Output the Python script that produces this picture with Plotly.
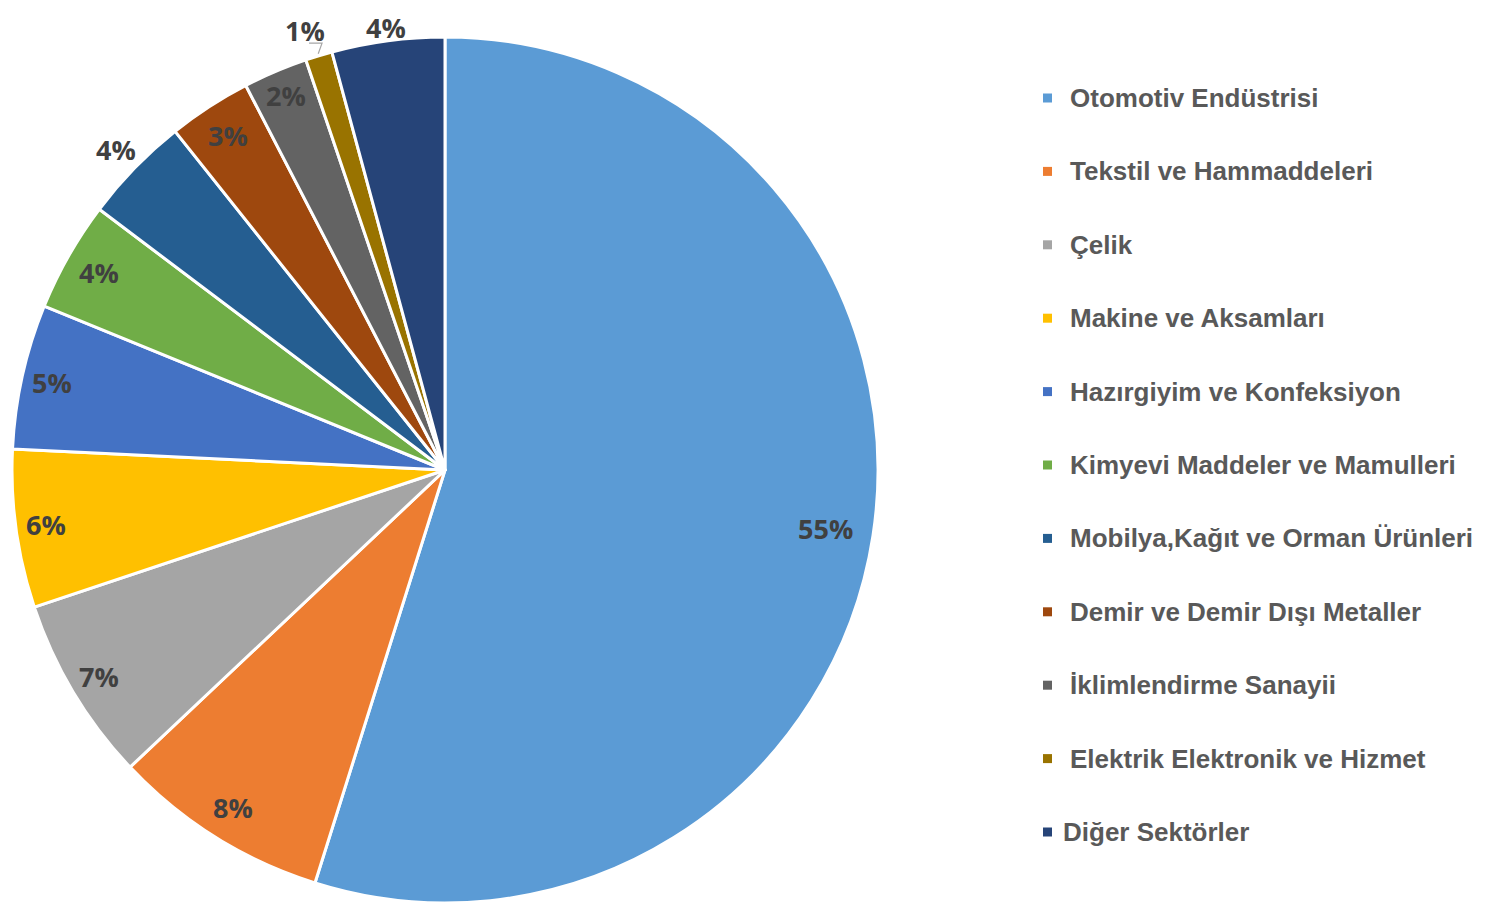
import math
import plotly.graph_objects as go

# sector shares (%)
sectors = [
    'Otomotiv Endüstrisi', 'Tekstil ve Hammaddeleri', 'Çelik', 'Makine ve Aksamları',
    'Hazırgiyim ve Konfeksiyon', 'Kimyevi Maddeler ve Mamulleri',
    'Mobilya,Kağıt ve Orman Ürünleri', 'Demir ve Demir Dışı Metaller',
    'İklimlendirme Sanayii', 'Elektrik Elektronik ve Hizmet', 'Diğer Sektörler',
]
shares = [54.8, 8.1, 6.9, 5.9, 5.4, 4.1, 4.0, 3.1, 2.4, 1.0, 4.2]
colors = ['#5B9BD5', '#ED7D31', '#A5A5A5', '#FFC000', '#4472C4', '#70AD47',
          '#255E91', '#9E480E', '#636363', '#997300', '#264478']

# label radius as a fraction of pie radius (Excel "best fit" placement)
label_r = [0.89, 0.92, 0.93, 0.93, 0.93, 0.92, 1.06, 0.92, 0.94, 1.062, 1.03]

# page body has an 8px margin, so the figure is made that much smaller
OFF = 8
W, H = 1493 - OFF, 906 - OFF
cx, cy, R = 445 - OFF, 470 - OFF, 433  # pixels inside the figure


def paper(x, y):
    return x / W, 1 - y / H


fig = go.Figure(go.Pie(
    labels=sectors,
    values=shares,
    sort=False,
    direction='clockwise',
    rotation=0,
    textinfo='none',
    hoverinfo='label+percent',
    marker=dict(colors=colors, line=dict(color='white', width=3)),
    domain=dict(x=[(cx - R) / W, (cx + R) / W], y=[1 - (cy + R) / H, 1 - (cy - R) / H]),
    showlegend=False,
))

# percentage labels placed on each slice bisector
total = sum(shares)
cum = 0
for i, v in enumerate(shares):
    mid = (cum + v / 2) / total * 2 * math.pi
    cum += v
    r = label_r[i] * R
    px = cx + r * math.sin(mid)
    py = cy - r * math.cos(mid)
    if v == min(shares):
        px -= 6  # Excel nudges this label left of its leader line
    ax, ay = paper(px, py)
    fig.add_annotation(
        x=ax, y=ay, xref='paper', yref='paper',
        text=f'{round(v / total * 100)}%', showarrow=False,
        font=dict(family='Open Sans', size=27, color='#404040', weight='bold'),
        xanchor='center', yanchor='middle',
    )
    if v == min(shares):
        # small leader line for the tiny slice
        ex, ey = paper(cx + R * 1.005 * math.sin(mid), cy - R * 1.005 * math.cos(mid))
        tx, ty = paper(px + 17, py + 13)
        tx2, _ = paper(px + 4, py + 13)
        fig.add_shape(type='path', xref='paper', yref='paper',
                      path=f'M {ex},{ey} L {tx},{ty} L {tx2},{ty}',
                      line=dict(color='#A6A6A6', width=1.2))

# legend drawn by hand: Excel spreads entries over the full height
leg_x, leg_y0, leg_step = 1068 - OFF, 98 - OFF, 73.4
sq_x0, sq_x1 = 1043 - OFF, 1052 - OFF
for i, name in enumerate(sectors):
    y = leg_y0 + i * leg_step
    tx = leg_x - 7 if i == len(sectors) - 1 else leg_x
    x0, y0 = paper(sq_x0, y + 4.5)
    x1, y1 = paper(sq_x1, y - 4.5)
    fig.add_shape(type='rect', xref='paper', yref='paper',
                  x0=x0, x1=x1, y0=y0, y1=y1,
                  fillcolor=colors[i], line=dict(width=0))
    ax, ay = paper(tx, y)
    fig.add_annotation(
        x=ax, y=ay, xref='paper', yref='paper',
        text=name, showarrow=False, xanchor='left', yanchor='middle',
        font=dict(family='Liberation Sans', size=26, color='#595959', weight='bold'),
    )

fig.update_layout(
    width=W, height=H,
    margin=dict(l=0, r=0, t=0, b=0),
    paper_bgcolor='white',
    plot_bgcolor='white',
)

fig.write_html('out.html')
